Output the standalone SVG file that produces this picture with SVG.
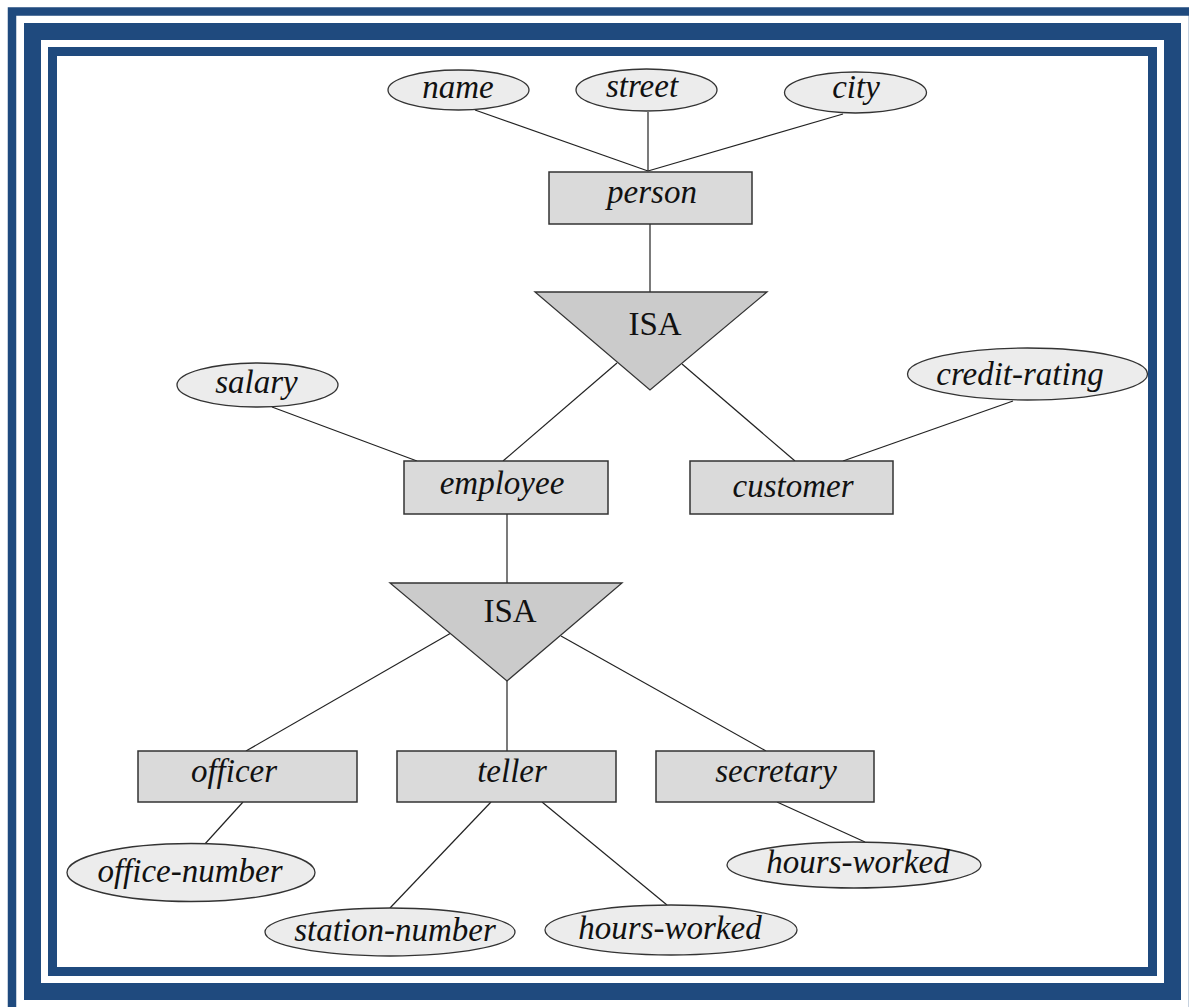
<svg xmlns="http://www.w3.org/2000/svg" width="1189" height="1007" viewBox="0 0 1189 1007">
<style>
.frame{fill:none;stroke:#1f4a7e}
.ent{fill:#dadada;stroke:#333;stroke-width:1.5}
.attr{fill:#ececec;stroke:#333;stroke-width:1.3}
.isa{fill:#cbcbcb;stroke:#333;stroke-width:1.3}
.lbl{font-family:"Liberation Serif","Times New Roman",serif;font-style:italic;font-size:33px;fill:#111;text-anchor:middle}
.isat{font-family:"Liberation Serif","Times New Roman",serif;font-size:33px;fill:#111;text-anchor:middle}
#connectors line{stroke:#222;stroke-width:1.2}
</style>
<rect width="1189" height="1007" fill="#fff"/>
<g id="frame">
<rect class="frame" x="12" y="11.5" width="1181" height="1000" stroke-width="8.5"/>
<rect class="frame" x="32.5" y="31.5" width="1140" height="960" stroke-width="17"/>
<rect class="frame" x="52.5" y="51.5" width="1100" height="920" stroke-width="9"/>
</g>
<g id="connectors">
<line x1="475" y1="110" x2="648" y2="171"/>
<line x1="648" y1="112" x2="648" y2="171"/>
<line x1="843" y1="114" x2="648" y2="171"/>
<line x1="650" y1="224" x2="650" y2="292"/>
<line x1="617" y1="363" x2="503" y2="461"/>
<line x1="682" y1="364" x2="795" y2="461"/>
<line x1="272" y1="407" x2="417" y2="461"/>
<line x1="1013" y1="401" x2="843" y2="461"/>
<line x1="507" y1="514" x2="507" y2="583"/>
<line x1="451" y1="633" x2="246" y2="751"/>
<line x1="507" y1="681" x2="507" y2="751"/>
<line x1="561" y1="636" x2="766" y2="751"/>
<line x1="243" y1="802" x2="204" y2="845"/>
<line x1="491" y1="802" x2="390" y2="908"/>
<line x1="542" y1="802" x2="667" y2="905"/>
<line x1="777" y1="802" x2="865" y2="842"/>
</g>
<g id="name"><ellipse class="attr" cx="458.5" cy="90" rx="70.5" ry="20"/><text class="lbl" x="458" y="98">name</text></g>
<g id="street"><ellipse class="attr" cx="646.5" cy="90" rx="70.5" ry="21"/><text class="lbl" x="642" y="97">street</text></g>
<g id="city"><ellipse class="attr" cx="855.5" cy="92.5" rx="71" ry="20.5"/><text class="lbl" x="856" y="98">city</text></g>
<g id="person"><rect class="ent" x="549" y="172" width="203" height="52"/><text class="lbl" x="652" y="203">person</text></g>
<g id="isa1"><polygon class="isa" points="535,292 767,292 650,390"/><text class="isat" x="655" y="335">ISA</text></g>
<g id="salary"><ellipse class="attr" cx="257.5" cy="385" rx="80.5" ry="22"/><text class="lbl" x="256.5" y="393">salary</text></g>
<g id="credit-rating"><ellipse class="attr" cx="1027.5" cy="374" rx="120" ry="26"/><text class="lbl" x="1020" y="385">credit-rating</text></g>
<g id="employee"><rect class="ent" x="404" y="461" width="204" height="53"/><text class="lbl" x="502" y="494">employee</text></g>
<g id="customer"><rect class="ent" x="690" y="461" width="203" height="53"/><text class="lbl" x="793" y="497">customer</text></g>
<g id="isa2"><polygon class="isa" points="390,583 622,583 507,681"/><text class="isat" x="510" y="622">ISA</text></g>
<g id="officer"><rect class="ent" x="138" y="751" width="219" height="51"/><text class="lbl" x="234" y="782">officer</text></g>
<g id="teller"><rect class="ent" x="397" y="751" width="219" height="51"/><text class="lbl" x="512" y="782">teller</text></g>
<g id="secretary"><rect class="ent" x="656" y="751" width="218" height="51"/><text class="lbl" x="776" y="782">secretary</text></g>
<g id="office-number"><ellipse class="attr" cx="191" cy="872.5" rx="124" ry="29"/><text class="lbl" x="190" y="882">office-number</text></g>
<g id="station-number"><ellipse class="attr" cx="390" cy="932" rx="125" ry="24"/><text class="lbl" x="395" y="941">station-number</text></g>
<g id="hours-worked-teller"><ellipse class="attr" cx="671" cy="930" rx="126" ry="25"/><text class="lbl" x="670" y="939">hours-worked</text></g>
<g id="hours-worked-secretary"><ellipse class="attr" cx="854" cy="865" rx="127" ry="23"/><text class="lbl" x="858" y="873">hours-worked</text></g>
</svg>
